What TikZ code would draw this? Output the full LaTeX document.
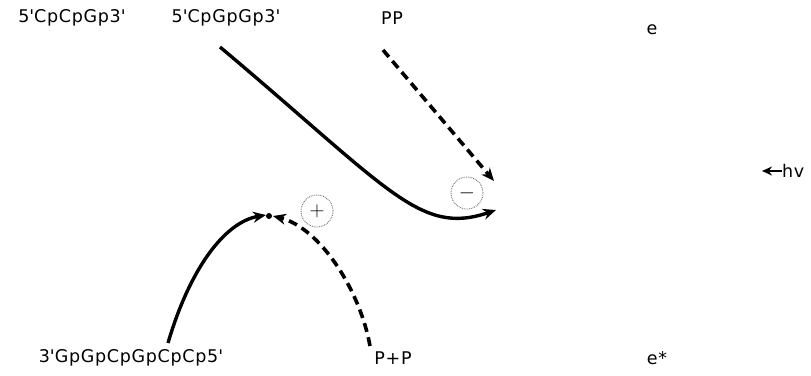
\documentclass[tikz,border=0pt]{standalone}
\usepackage{fontspec}
\setmainfont[LetterSpace=4]{DejaVu Sans}
\usetikzlibrary{arrows.meta}
\newcommand{\qq}{\textquotesingle}
\begin{document}
\begin{tikzpicture}[x=1pt,y=-1pt,
  lbl/.style={font=\fontsize{17.5}{20}\selectfont, inner sep=0pt},
  solidarrow/.style={line width=3.4pt,-{Stealth[length=13pt,width=11pt]}},
  dasharrow/.style={line width=3.6pt,dash pattern=on 9pt off 5.5pt,-{Stealth[length=13pt,width=11pt]}},
  charge/.style={circle,draw=black!65,densely dotted,line width=0.8pt,minimum size=32pt,inner sep=0pt,font=\fontsize{22}{24}\selectfont}]
\useasboundingbox (0,0) rectangle (811,375);
\node[lbl] (c1) at (72,18) {5\qq CpCpGp3\qq};
\node[lbl] (c2) at (226,18) {5\qq CpGpGp3\qq};
\node[lbl] (pp) at (392,18) {PP};
\node[lbl] (e) at (652,30) {e};
\node[lbl] (g) at (131,358) {3\qq GpGpCpGpCpCp5\qq};
\node[lbl] (pnp) at (393,358) {P+P};
\node[lbl] (es) at (657,358) {e*};
\node[lbl,anchor=west] (hv) at (782,171) {hv};
\coordinate (hvs) at (762,171);
\draw[line width=2.2pt,-{Stealth[length=10pt,width=9pt]}] (hv.west) -- (hvs);
\node[charge] (minus) at (467,193) {$-$};
\node[charge] (plus) at (317,211) {$+$};
\fill (269,216) circle (3pt) coordinate (dot);
\coordinate (a1) at (220,47);
\coordinate (a1e) at (496,210);
\coordinate (a2) at (383,50);
\coordinate (a2e) at (494,181);
\coordinate (a3) at (168,343);
\coordinate (a3e) at (266,215);
\coordinate (a4) at (370,346);
\coordinate (a4e) at (273,216);
\draw[solidarrow] (a1) .. controls (390,190) and (420,236) .. (a1e);
\draw[dasharrow] (a2) -- (a2e);
\draw[solidarrow] (a3) .. controls (190,268) and (225,222) .. (a3e);
\draw[dasharrow] (a4) .. controls (360,290) and (320,228) .. (a4e);
\end{tikzpicture}
\end{document}
